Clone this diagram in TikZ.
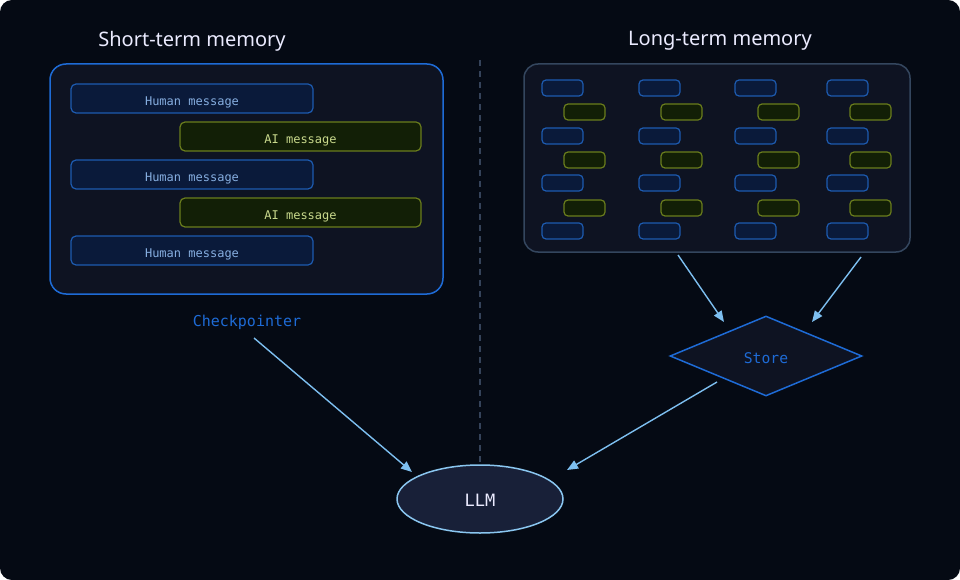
\documentclass[tikz,border=0pt]{standalone}
\usepackage{fontspec}
\setmainfont{Noto Sans}
\newfontfamily\monof{DejaVu Sans Mono}
\usetikzlibrary{arrows.meta,shapes.geometric}
\definecolor{bgc}{HTML}{050A14}
\definecolor{panel}{HTML}{0E1322}
\definecolor{stb}{HTML}{1E6BD6}
\definecolor{ltb}{HTML}{34465E}
\definecolor{hfill}{HTML}{0A1A3A}
\definecolor{hdraw}{HTML}{1D5BB0}
\definecolor{htext}{HTML}{86AEE0}
\definecolor{afill}{HTML}{121F06}
\definecolor{adraw}{HTML}{6A7D1C}
\definecolor{atext}{HTML}{C9D98C}
\definecolor{arrc}{HTML}{7DBFF0}
\definecolor{llmfill}{HTML}{182038}
\definecolor{llmdraw}{HTML}{8AC6F0}
\definecolor{dashc}{HTML}{35435A}
\tikzset{
  x=1pt,y=-1pt,
  title/.style={text=white!92!blue, font=\fontsize{20}{24}\selectfont, anchor=center},
  hbox/.style={draw=hdraw, fill=hfill, line width=1.2pt, rounded corners=5pt},
  abox/.style={draw=adraw, fill=afill, line width=1.2pt, rounded corners=5pt},
  htxt/.style={text=htext, font=\monof\fontsize{12}{14}\selectfont},
  atxt/.style={text=atext, font=\monof\fontsize{12}{14}\selectfont},
  arr/.style={draw=arrc, line width=1.4pt, -{Triangle[length=11pt,width=9pt]}},
}
\begin{document}
\begin{tikzpicture}
\useasboundingbox (0,0) rectangle (960,580);
\fill[white] (0,0) rectangle (960,580);
\fill[bgc, rounded corners=12pt] (0,0) rectangle (960,580);

% divider
\draw[dashc, line width=1.3pt, dash pattern=on 6pt off 5pt] (480,60) -- (480,465);

% titles
\node[title] (t1) at (192,41) {Short-term memory};
\node[title] (t2) at (720,41) {Long-term memory};

% short-term panel
\draw[stb, fill=panel, line width=1.5pt, rounded corners=16pt] (50,64) rectangle (443,294);
\foreach \y/\n in {84/h1,160/h2,236/h3}{
  \draw[hbox] (71,\y) rectangle (313,\y+29);
  \node[htxt] (\n) at (192,\y+18) {Human message};
}
\foreach \y/\n in {122/a1,198/a2}{
  \draw[abox] (180,\y) rectangle (421,\y+29);
  \node[atxt] (\n) at (300.5,\y+18) {AI message};
}

% long-term panel
\draw[ltb, fill=panel, line width=1.5pt, rounded corners=14pt] (524,64) rectangle (910,252);
\foreach \bx/\gx in {542/564, 639/661, 735/758, 827/850}{
  \foreach \y in {80,128,175,223}{
    \draw[hbox, rounded corners=4pt] (\bx,\y) rectangle (\bx+41,\y+16);
  }
  \foreach \y in {104,152,200}{
    \draw[abox, rounded corners=4pt] (\gx,\y) rectangle (\gx+41,\y+16);
  }
}

% checkpointer
\node[text=stb, font=\monof\fontsize{15}{17}\selectfont] (ck) at (247,322) {Checkpointer};

% store
\node[diamond, draw=stb, fill=panel, line width=1.5pt, minimum width=192pt, minimum height=80pt, inner sep=0pt, aspect=2.4] (store) at (766,356) {};
\node[text=stb, font=\monof\fontsize{14.7}{17}\selectfont] (storet) at (766,358) {Store};

% LLM
\node[ellipse, draw=llmdraw, fill=llmfill, line width=1.5pt, minimum width=166pt, minimum height=68pt, inner sep=0pt] (llm) at (480,499) {};
\node[text=white!92!blue, font=\monof\fontsize{17}{19}\selectfont] (llmt) at (480,500) {LLM};

% connectors
\coordinate (c1s) at (254,338);
\coordinate (c1e) at (412,472);
\coordinate (c2s) at (678,255);
\coordinate (c2e) at (724,322);
\coordinate (c3s) at (861,257);
\coordinate (c3e) at (812,322);
\coordinate (c4s) at (717,382);
\coordinate (c4e) at (567,470);
\draw[arr] (c1s) -- (c1e);
\draw[arr] (c2s) -- (c2e);
\draw[arr] (c3s) -- (c3e);
\draw[arr] (c4s) -- (c4e);
\end{tikzpicture}
\end{document}
